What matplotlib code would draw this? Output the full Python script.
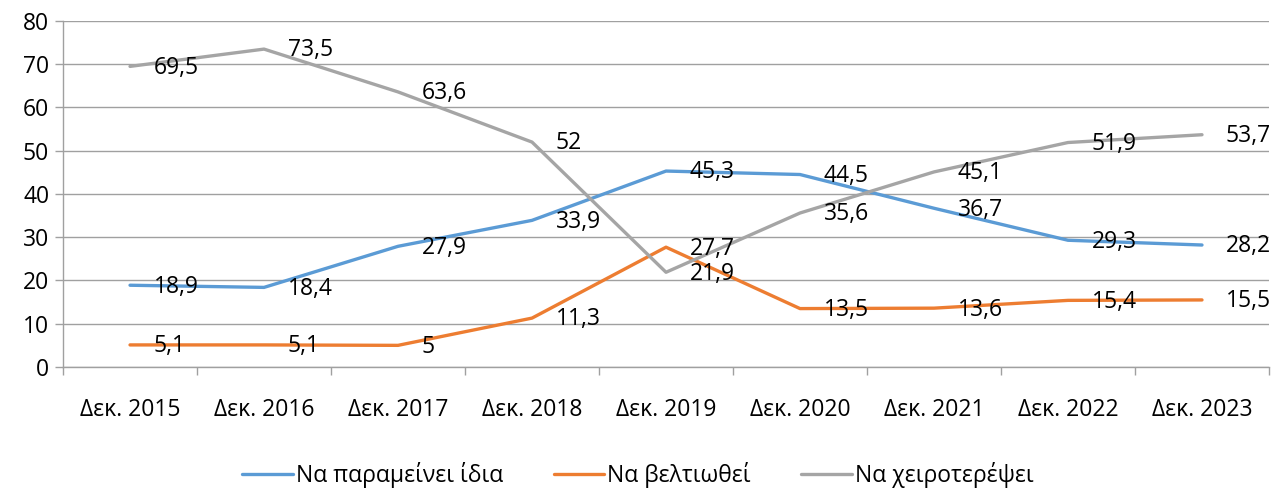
import matplotlib
matplotlib.use("Agg")
import matplotlib.pyplot as plt
from matplotlib.ticker import MultipleLocator, FixedLocator

plt.rcParams['font.family'] = ['Open Sans', 'DejaVu Sans']

categories = ["Δεκ. 2015", "Δεκ. 2016", "Δεκ. 2017", "Δεκ. 2018", "Δεκ. 2019",
              "Δεκ. 2020", "Δεκ. 2021", "Δεκ. 2022", "Δεκ. 2023"]
same = [18.9, 18.4, 27.9, 33.9, 45.3, 44.5, 36.7, 29.3, 28.2]
better = [5.1, 5.1, 5.0, 11.3, 27.7, 13.5, 13.6, 15.4, 15.5]
worse = [69.5, 73.5, 63.6, 52.0, 21.9, 35.6, 45.1, 51.9, 53.7]
series_names = ["Να παραμείνει ίδια", "Να βελτιωθεί", "Να χειροτερέψει"]
colors = ["#5B9BD5", "#ED7D31", "#A5A5A5"]

FS = 16.5

fig = plt.figure(figsize=(12.76, 4.88), dpi=100)
ax = fig.add_axes([0.0494, 0.248, 0.9451, 0.709])

x = list(range(len(categories)))
for vals, name, c in zip([same, better, worse], series_names, colors):
    ax.plot(x, vals, color=c, lw=2.4, label=name, solid_capstyle='round', zorder=3)
    for xi, v in zip(x, vals):
        txt = f"{v:g}".replace(".", ",")
        ax.annotate(txt, (xi, v), xytext=(17, -1), textcoords='offset points',
                    ha='left', va='center', fontsize=FS, color='black', zorder=4)

ax.set_xlim(-0.5, len(categories) - 0.5)
ax.set_ylim(0, 80)
ax.yaxis.set_major_locator(MultipleLocator(10))
ax.set_xticks(x)
ax.set_xticklabels(categories, fontsize=FS)
ax.xaxis.set_minor_locator(FixedLocator([i - 0.5 for i in range(len(categories) + 1)]))
ax.tick_params(axis='x', which='major', length=0, pad=22)
ax.tick_params(axis='x', which='minor', length=6, color='#A0A0A0', width=1)
ax.tick_params(axis='y', which='major', length=6, color='#A0A0A0', width=1, labelsize=FS, pad=4)
ax.grid(axis='y', color='#A0A0A0', lw=1)
ax.set_axisbelow(True)
for s in ['top', 'right']:
    ax.spines[s].set_visible(False)
for s in ['left', 'bottom']:
    ax.spines[s].set_color('#A0A0A0')
    ax.spines[s].set_linewidth(1)

fig.legend(loc='center', bbox_to_anchor=(0.5, 0.027), ncol=3, frameon=False,
           fontsize=FS, handlelength=2.2, handletextpad=0.15, columnspacing=2.2)

fig.savefig("out.png", dpi=100)
